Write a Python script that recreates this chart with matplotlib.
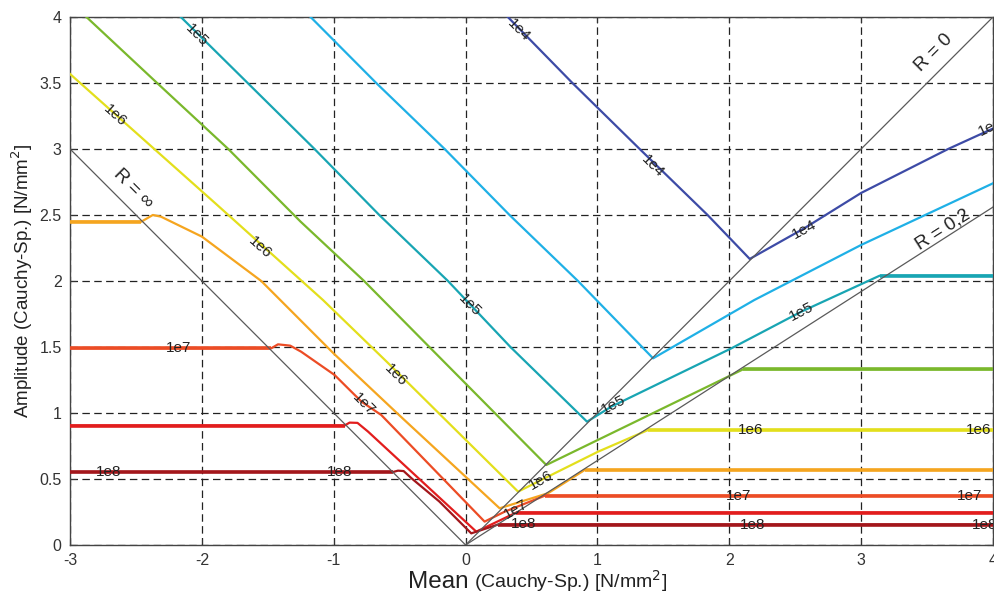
import numpy as np
import matplotlib
matplotlib.use('Agg')
from matplotlib import pyplot as plt

plt.rcParams['font.family'] = ['Liberation Sans', 'DejaVu Sans']
plt.rcParams['axes.unicode_minus'] = False

# Woehler contour lines (life in cycles)
levels = ['1e4', '3e4', '1e5', '3e5', '1e6', '3e6', '1e7', '3e7', '1e8']
colors = ['#3d4ba6', '#1fb0e6', '#18a5b3', '#7ab82c', '#e3df1c',
          '#f5a51f', '#ec4c25', '#e21d1d', '#a3161b']

x_1e4 = [0.32, 0.81, 1.32, 1.835, 2.155, 2.57, 3.0, 3.66, 4.0]
y_1e4 = [4.0, 3.5, 3.0, 2.5, 2.167, 2.40, 2.667, 3.0, 3.155]

x_3e4 = [-1.176, -0.678, -0.159, 0.333, 0.852, 1.422, 2.19, 3.0, 4.0]
y_3e4 = [4.0, 3.5, 3.0, 2.5, 2.0, 1.414, 1.856, 2.273, 2.74]

x_1e5 = [-2.16, -1.146, -0.655, -0.134, 0.34, 0.921, 1.105, 2.016, 2.545,
         3.14, 4.0]
y_1e5 = [4.0, 3.0, 2.5, 2.0, 1.5, 0.934, 1.048, 1.49, 1.767, 2.04, 2.04]

x_3e5 = [-2.876, -2.34, -1.80, -1.252, -0.77, -0.275, 0.612, 1.3, 2.105, 4.0]
y_3e5 = [4.0, 3.5, 3.0, 2.45, 2.0, 1.5, 0.606, 0.94, 1.331, 1.331]

x_1e6 = [-3.0, -1.9, -1.082, -0.6, 0.398, 0.675, 1.005, 1.384, 4.0]
y_1e6 = [3.568, 2.59, 1.856, 1.39, 0.404, 0.543, 0.707, 0.871, 0.871]

x_3e6 = [-3.0, -2.46, -2.372, -2.31, -2.0, -1.55, -1.0, -0.5, 0.258, 0.625,
         0.903, 4.0]
y_3e6 = [2.449, 2.449, 2.5, 2.487, 2.336, 2.0, 1.45, 0.98, 0.278, 0.392,
         0.568, 0.568]

x_1e7 = [-3.0, -1.474, -1.423, -1.33, -1.247, -0.994, -0.79, -0.64, 0.144,
         0.296, 0.6, 4.0]
y_1e7 = [1.49, 1.49, 1.52, 1.51, 1.464, 1.288, 1.086, 0.985, 0.177, 0.252,
         0.373, 0.373]

x_3e7 = [-3.0, -0.918, -0.88, -0.82, -0.74, 0.081, 0.383, 4.0]
y_3e7 = [0.905, 0.905, 0.927, 0.925, 0.859, 0.101, 0.245, 0.245]

x_1e8 = [-3.0, -0.55, -0.513, -0.47, -0.41, -0.2, 0.043, 0.246, 4.0]
y_1e8 = [0.553, 0.553, 0.563, 0.56, 0.505, 0.33, 0.088, 0.155, 0.155]

curves_x = [x_1e4, x_3e4, x_1e5, x_3e5, x_1e6, x_3e6, x_1e7, x_3e7, x_1e8]
curves_y = [y_1e4, y_3e4, y_1e5, y_3e5, y_1e6, y_3e6, y_1e7, y_3e7, y_1e8]

# stress ratio limit lines: amplitude / mean
r_names = ['R = \u221e', 'R = 0', 'R = 0,2']
r_mean = [[-3.0, 0.0], [0.0, 4.0], [0.0, 4.0]]
r_amp = [[3.0, 0.0], [0.0, 4.0], [0.0, 2.56]]

# contour labels: text, mean, amplitude, angle
contour_labels = [
    ('1e4', 0.40, 3.90, -45), ('1e4', 1.42, 2.87, -45),
    ('1e4', 2.57, 2.39, 28), ('1e4', 3.98, 3.17, 26),
    ('1e5', -2.04, 3.86, -45), ('1e5', 0.03, 1.82, -45),
    ('1e5', 1.12, 1.06, 27), ('1e5', 2.55, 1.77, 27),
    ('1e6', -2.66, 3.25, -42), ('1e6', -1.56, 2.25, -42),
    ('1e6', -0.53, 1.29, -45), ('1e6', 0.57, 0.49, 30),
    ('1e6', 2.16, 0.871, 0), ('1e6', 3.89, 0.871, 0),
    ('1e7', -2.18, 1.49, 0), ('1e7', -0.77, 1.07, -45),
    ('1e7', 0.38, 0.27, 30), ('1e7', 2.07, 0.373, 0), ('1e7', 3.82, 0.373, 0),
    ('1e8', -2.71, 0.553, 0), ('1e8', -0.956, 0.553, 0),
    ('1e8', 0.44, 0.16, 0), ('1e8', 2.18, 0.155, 0), ('1e8', 3.94, 0.155, 0),
]
r_labels = [(-2.52, 2.70, -45), (3.55, 3.73, 45), (3.62, 2.39, 32.6)]

fig = plt.figure(figsize=(9.95, 6.0), dpi=100)
ax = fig.add_axes([0.0704, 0.0917, 0.9276, 0.88])

for xs, ys, c in zip(curves_x, curves_y, colors):
    ax.plot(xs, ys, color=c, lw=1.6, zorder=3)
    # constant-amplitude cut-offs are drawn heavier
    if ys[0] == ys[1]:
        ax.plot(xs[:2], ys[:2], color=c, lw=2.6, zorder=3,
                solid_capstyle='butt')
    if ys[-1] == ys[-2]:
        ax.plot(xs[-2:], ys[-2:], color=c, lw=2.6, zorder=3,
                solid_capstyle='butt')

for xs, ys in zip(r_mean, r_amp):
    ax.plot(xs, ys, color='#5a5a5a', lw=0.9, zorder=4)

for text, x, y, rot in contour_labels:
    ax.text(x, y, text, fontsize=11, color='#222222', rotation=rot,
            rotation_mode='anchor', ha='center', va='center', zorder=5,
            clip_on=True)

for name, (x, y, rot) in zip(r_names, r_labels):
    ax.text(x, y, name, fontsize=13.5, color='#222222', rotation=rot,
            rotation_mode='anchor', ha='center', va='center', zorder=5)

ax.set_xlim(-3, 4)
ax.set_ylim(0, 4)
ax.set_xticks(range(-3, 5))
ax.set_yticks(np.arange(0, 4.01, 0.5))
ax.set_yticklabels(['0', '0.5', '1', '1.5', '2', '2.5', '3', '3.5', '4'])
ax.grid(True, color='#222222', linestyle=(0, (6, 3.5)), lw=0.9)
ax.set_axisbelow(True)
ax.tick_params(direction='in', length=4, top=True, right=True,
               labelsize=11.5, colors='#333333', pad=6)
for spine in ax.spines.values():
    spine.set_color('#444444')
    spine.set_linewidth(1.0)

ax.set_ylabel('Amplitude (Cauchy-Sp.) [N/mm$^2$]', fontsize=13.5,
              color='#222222', labelpad=3)
fig.text(0.471, 0.02, 'Mean', fontsize=17.5, color='#222222', ha='right',
         va='baseline')
fig.text(0.476, 0.02, '(Cauchy-Sp.) [N/mm$^2$]', fontsize=14,
         color='#222222', ha='left', va='baseline')

fig.savefig('out.png', dpi=100)
